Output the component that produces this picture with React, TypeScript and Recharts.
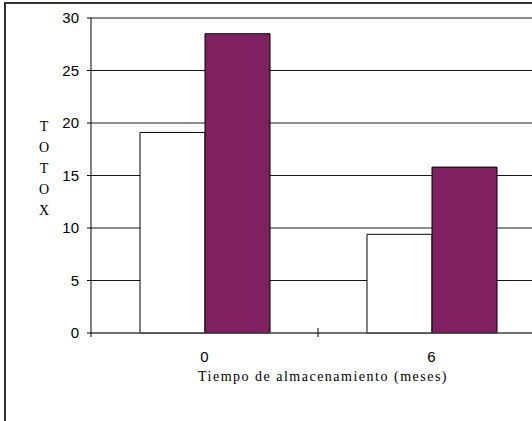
import React from 'react';
import { BarChart, Bar, XAxis, YAxis, CartesianGrid, Label } from 'recharts';

const categories = ['0', '6'];
const seriesWhite = [19.1, 9.4];
const seriesPurple = [28.5, 15.8];
const yTicks = [0, 5, 10, 15, 20, 25, 30];
const xTitle = 'Tiempo de almacenamiento (meses)';
const yTitleLetters = ['T', 'O', 'T', 'O', 'X'];

const data = categories.map((c, i) => ({ name: c, a: seriesWhite[i], b: seriesPurple[i] }));

const SANS = 'Arial, "Liberation Sans", sans-serif';
const SERIF = '"Times New Roman", "Liberation Serif", serif';

const XTick = (props: any) => {
  const { x, y, payload, index } = props;
  const off = payload && payload.offset ? payload.offset : 0;
  return (
    <g>
      {index === 0 && <line x1={x - off} x2={x - off} y1={y} y2={y + 4} stroke="#000" />}
      <line x1={x + off} x2={x + off} y1={y - 5} y2={y + 4} stroke="#000" />
      <text x={x} y={y + 29} textAnchor="middle" fontFamily={SANS} fontSize={15} fill="#000">
        {payload.value}
      </text>
    </g>
  );
};

const XTitle = (props: any) => {
  const vb = props.viewBox || { x: 0, y: 0, width: 0 };
  return (
    <text
      x={vb.x + vb.width / 2 + 5}
      y={vb.y + 48}
      textAnchor="middle"
      fontFamily={SERIF}
      fontSize={14}
      letterSpacing={1.5}
      fill="#000"
    >
      {xTitle}
    </text>
  );
};

const YTitle = (props: any) => {
  const vb = props.viewBox || { x: 0, y: 0, height: 0 };
  const cy = vb.y + vb.height / 2;
  return (
    <text fontFamily={SERIF} fontSize={14} fill="#000" textAnchor="middle">
      {yTitleLetters.map((l, i) => (
        <tspan key={i} x={44} y={cy - 44.5 + i * 21}>
          {l}
        </tspan>
      ))}
    </text>
  );
};

export default function App() {
  return (
    <div style={{ position: 'absolute', left: 0, top: 0, width: 532, height: 421, overflow: 'hidden', background: '#fff' }}>
      <div
        style={{
          position: 'absolute',
          left: 4,
          top: 2,
          width: 600,
          height: 500,
          borderLeft: '2px solid #333',
          borderTop: '2px solid #333',
        }}
      />
      <div style={{ position: 'absolute', left: 0, top: 0 }}>
        <BarChart
          width={560}
          height={421}
          data={data}
          margin={{ top: 18, right: 15, left: 0, bottom: 38 }}
          barCategoryGap={49}
          barGap={0}
        >
          <CartesianGrid vertical={false} stroke="#000" strokeOpacity={0.9} />
          <XAxis
            dataKey="name"
            height={50}
            tickLine={false}
            tickSize={0}
            tickMargin={0}
            axisLine={{ stroke: '#555' }}
            tick={<XTick />}
            interval={0}
          >
            <Label content={<XTitle />} />
          </XAxis>
          <YAxis
            width={91}
            domain={[0, 30]}
            ticks={yTicks}
            interval={0}
            tickSize={4}
            tickMargin={8}
            axisLine={{ stroke: '#000' }}
            tickLine={{ stroke: '#000' }}
            tick={{ fill: '#000', fontFamily: SANS, fontSize: 15 }}
          >
            <Label content={<YTitle />} />
          </YAxis>
          <Bar dataKey="a" fill="#ffffff" stroke="#000" strokeWidth={1} isAnimationActive={false} />
          <Bar dataKey="b" fill="#7F2060" stroke="#000" strokeWidth={1} isAnimationActive={false} />
        </BarChart>
      </div>
    </div>
  );
}
